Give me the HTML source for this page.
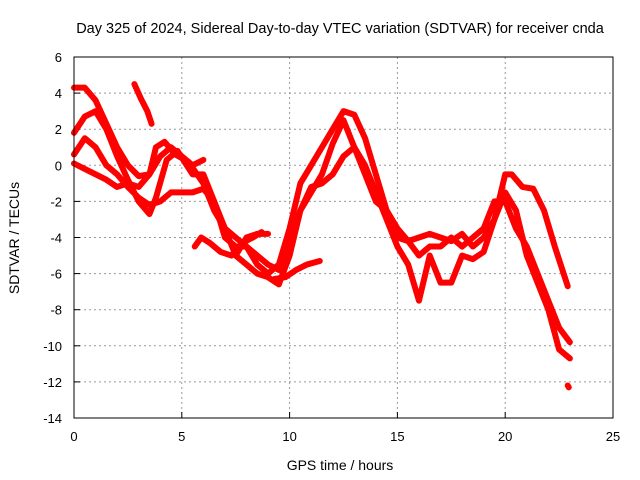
<!DOCTYPE html>
<html><head><meta charset="utf-8"><style>
body{margin:0;background:#fff}
svg{display:block;font-family:"Liberation Sans",sans-serif}
</style></head><body>
<svg id="chart" width="640" height="480">
<text x="340" y="33" text-anchor="middle" font-size="14.5">Day 325 of 2024, Sidereal Day-to-day VTEC variation (SDTVAR) for receiver cnda</text>
<text x="340" y="470" text-anchor="middle" font-size="14">GPS time / hours</text>
<text transform="translate(19,238) rotate(-90)" text-anchor="middle" font-size="14">SDTVAR / TECUs</text>
<g id="grid"></g><g id="ticks"></g><g id="series"></g>
<rect x="74" y="57" width="539" height="361" fill="none" stroke="#000"/>
</svg>
<script>
const xTicks=[0,5,10,15,20,25];
const yTicks=[6,4,2,0,-2,-4,-6,-8,-10,-12,-14];
const trackA=[[0,4.3],[0.5,4.3],[1,3.6],[1.5,2.3],[2,1],[2.5,0],[3,-0.6],[3.5,-0.5],[3.8,1],[4.2,1.3],[4.7,0.6],[5.3,0.2],[6,-1],[6.5,-2.5],[7,-3.5],[7.5,-4],[8,-4.5],[8.5,-5.5],[9,-6],[9.5,-5.5],[10,-3.5],[10.5,-1],[11,0],[11.5,1],[12,2],[12.5,3],[13,2.8],[13.5,1.5],[14,-0.5],[14.5,-2.5],[15,-3.5],[15.5,-4.2],[16,-4],[16.5,-3.8],[17,-4],[17.5,-4.2],[18,-3.8],[18.5,-4.5],[19,-4],[19.5,-3],[20,-0.5],[20.3,-0.5],[20.8,-1.2],[21.3,-1.3],[21.8,-2.5],[22.3,-4.5],[22.9,-6.7]];
const trackB=[[0,1.8],[0.5,2.7],[1,3],[1.5,2],[2,0.5],[2.5,-0.8],[3,-2],[3.5,-2.7],[3.8,-1.8],[4.3,0.3],[4.8,0.8],[5.5,-0.5],[6,-0.5],[6.5,-2],[7,-3.5],[7.5,-5],[8,-5.5],[8.5,-6],[9,-6.2],[9.5,-6.6],[10,-5],[10.5,-2.5],[11,-1.5],[11.5,-0.5],[12,1.2],[12.5,2.5],[13,1],[13.5,0],[14,-1.5],[14.5,-3],[15,-4.5],[15.5,-5.5],[16,-7.5],[16.5,-5],[17,-6.5],[17.5,-6.5],[18,-5],[18.5,-5.2],[19,-4.8],[19.5,-3],[20,-1.5],[20.5,-2.5],[21,-5],[21.5,-6.5],[22,-8],[22.5,-10.2],[23,-10.7]];
const trackC=[[0,0.6],[0.5,1.5],[1,1],[1.5,0],[2,-0.5],[2.5,-1.2],[3,-1.8],[3.5,-2.2],[4,-2],[4.5,-1.5],[5,-1.5],[5.5,-1.5],[6,-1.3],[6.5,-2],[7,-4],[7.5,-4.5],[8,-4.5],[8.5,-5],[9,-5.5],[9.5,-5.8],[10,-4],[10.5,-2.5],[11,-1.2],[11.5,-1],[12,-0.5],[12.5,0.5],[13,1],[13.5,-0.5],[14,-2],[14.5,-2.5],[15,-4],[15.5,-4.2],[16,-5],[16.5,-4.5],[17,-4.5],[17.5,-4],[18,-4.5],[18.5,-4],[19,-3.5],[19.5,-2],[20,-2],[20.5,-3.5],[21,-4.5],[21.5,-6],[22,-7.5],[22.5,-9],[23,-9.8]];
const trackD=[[0,0.1],[0.5,-0.2],[1,-0.5],[1.5,-0.8],[2,-1.2],[2.5,-1],[3,-1.2],[3.5,-0.5],[4,0.5],[4.5,1],[5,0.5],[5.5,0],[6,0.3]];
const trackE=[[2.8,4.5],[3.1,3.7],[3.4,3],[3.6,2.3]];
const trackF=[[5.6,-4.5],[5.9,-4],[6.3,-4.3],[6.8,-4.8],[7.3,-5],[7.8,-4.3],[8.3,-4],[8.7,-3.7]];
const trackG=[[9.3,-6.3],[9.8,-6.2],[10.3,-5.8],[10.8,-5.5],[11.4,-5.3]];
const trackH=[[7.5,-5],[8,-4],[8.5,-3.8],[9,-3.8]];
const trackI=[[22.9,-12.2],[22.95,-12.3]];
const tracks=[trackA,trackB,trackC,trackD,trackE,trackF,trackG,trackH,trackI];
const X=v=>74+v*539/25, Y=v=>57+(6-v)*361/20;
const NS="http://www.w3.org/2000/svg";
const grid=document.getElementById('grid'),ticks=document.getElementById('ticks'),ser=document.getElementById('series');
function mk(tag,a,p){const e=document.createElementNS(NS,tag);for(const k in a)e.setAttribute(k,a[k]);p.appendChild(e);return e;}
xTicks.forEach(t=>{
 if(t>0&&t<25){const g=mk('line',{x1:X(t),x2:X(t),y1:57,y2:418,stroke:'#999','stroke-dasharray':'2,3'},grid);
 
 }
 const l=mk('text',{x:X(t),y:441,'text-anchor':'middle','font-size':13},ticks);l.textContent=t;
 
 
 mk('line',{x1:X(t),x2:X(t),y1:418,y2:412,stroke:'#000'},ticks);
});
yTicks.forEach(t=>{
 if(t<6&&t>-14){const g=mk('line',{x1:74,x2:613,y1:Y(t),y2:Y(t),stroke:'#999','stroke-dasharray':'2,3'},grid);
 
 }
 const l=mk('text',{x:62,y:Y(t)+5,'text-anchor':'end','font-size':13},ticks);l.textContent=t;
 
 
 mk('line',{x1:74,x2:80,y1:Y(t),y2:Y(t),stroke:'#000'},ticks);
});
tracks.forEach((tr,i)=>{
 const p=mk('polyline',{points:tr.map(d=>X(d[0])+','+Y(d[1])).join(' '),fill:'none',stroke:'#f00','stroke-width':6,'stroke-linejoin':'round','stroke-linecap':'round'},ser);
 
 
});
</script>
</body></html>
